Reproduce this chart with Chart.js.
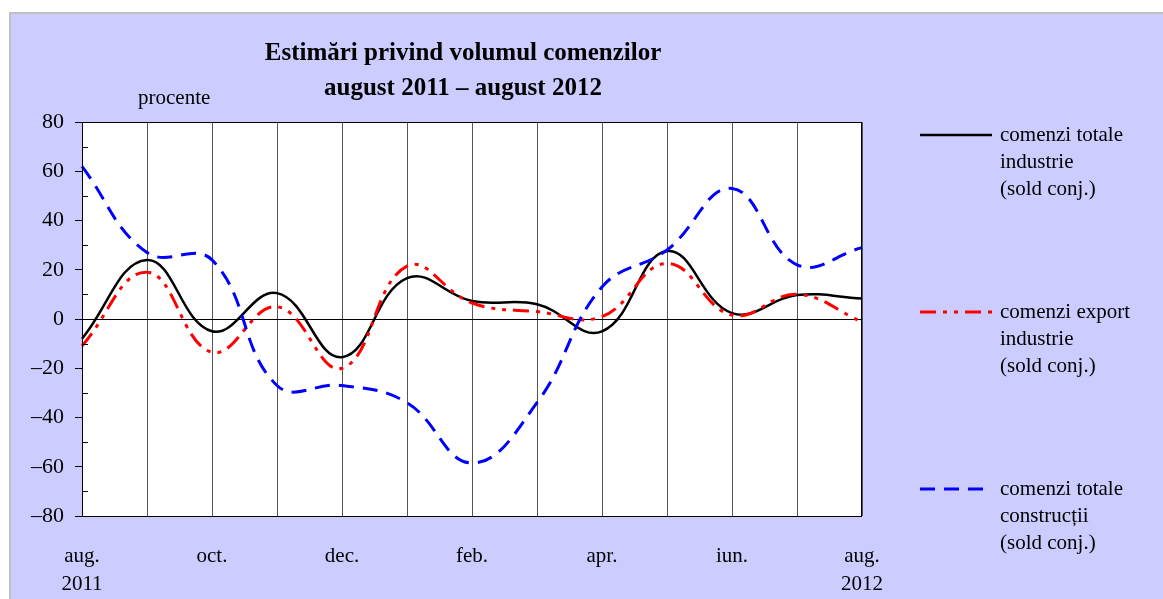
<!DOCTYPE html>
<html>
<head>
<meta charset="utf-8">
<script src="https://cdn.jsdelivr.net/npm/chart.js@4.4.1/dist/chart.umd.min.js"></script>
<style>
  html, body { margin: 0; padding: 0; background: #fff; overflow: hidden; }
  body { width: 1163px; height: 599px; position: relative; font-family: 'Liberation Serif', 'Times New Roman', serif; }
  #panel { position: absolute; left: 9px; top: 12px; right: -5px; bottom: -5px; background: #ccccff; border: 2px solid #c0c0c0; }
  #chart { position: absolute; left: 10px; top: 13px; }
  #title { position: absolute; left: 163px; width: 600px; top: 34px; text-align: center; font-weight: bold; font-size: 25px; line-height: 35px; color: #000; }
  #unit { position: absolute; left: 138px; top: 85px; font-size: 21px; color: #000; }
  .leg { position: absolute; left: 920px; font-size: 21px; line-height: 27px; color: #000; }
  .leg svg { position: absolute; left: 0; top: 8px; }
  .leg div { margin-left: 80px; }
</style>
</head>
<body>
<div id="panel"></div>
<canvas id="chart" width="1153" height="586"></canvas>
<div id="title">Estimări privind volumul comenzilor<br>august 2011 – august 2012</div>
<div id="unit">procente</div>
<div id="legend"></div>
<script>
const months = ['aug.', 'sep.', 'oct.', 'nov.', 'dec.', 'ian.', 'feb.', 'mar.', 'apr.', 'mai', 'iun.', 'iul.', 'aug.'];
const years = ['2011', '', '', '', '', '', '', '', '', '', '', '', '2012'];

const totalIndustrie = [-8, 24, -5, 10.5, -15.5, 16.6, 7.3, 6, -5, 27.6, 2.4, 9.7, 8.3];
const exportIndustrie = [-11, 19, -13.5, 5, -20, 21.5, 6.5, 3, 1, 22.5, 1.6, 10, -1.2];
const totalConstructii = [62, 27, 24, -27, -27, -34, -58.5, -34, 13, 28, 53, 22, 29];

const yTicks = [80, 60, 40, 20, 0, -20, -40, -60, -80];

const seriesNames = [
    ['comenzi totale', 'industrie', '(sold conj.)'],
    ['comenzi export', 'industrie', '(sold conj.)'],
    ['comenzi totale', 'construcții', '(sold conj.)']
];
const seriesColors = ['#000000', '#ff0000', '#0000ff'];
const seriesDash = [[], [16, 7, 4, 7, 4, 7], [15, 9]];
const seriesWidth = [2.5, 3, 3];

// legend in html
const legendTops = [121, 298, 475];
const legend = document.getElementById('legend');
seriesNames.forEach((lines, i) => {
    const el = document.createElement('div');
    el.className = 'leg';
    el.style.top = legendTops[i] + 'px';
    el.innerHTML = '<svg width="74" height="12"><line x1="0" y1="6" x2="72" y2="6" stroke="' + seriesColors[i] +
        '" stroke-width="' + seriesWidth[i] + '" stroke-dasharray="' + (seriesDash[i].join(',') || 'none') + '"/></svg>' +
        '<div>' + lines.join('<br>') + '</div>';
    legend.appendChild(el);
});

// white plot background, frame and minor ticks inside
const frame = {
    id: 'frame',
    beforeDraw(chart) {
        const a = chart.chartArea, ctx = chart.ctx;
        ctx.save();
        ctx.fillStyle = '#ffffff';
        ctx.fillRect(a.left, a.top, a.right - a.left, a.bottom - a.top);
        ctx.restore();
    },
    afterDraw(chart) {
        const a = chart.chartArea, ctx = chart.ctx, y = chart.scales.y;
        ctx.save();
        ctx.strokeStyle = '#000';
        ctx.lineWidth = 1;
        ctx.strokeRect(a.left + 0.5, a.top + 0.5, a.right - a.left - 1, a.bottom - a.top);
        ctx.beginPath();
        for (let v = -70; v < 80; v += 20) {
            const py = Math.round(y.getPixelForValue(v)) + 0.5;
            ctx.moveTo(a.left, py);
            ctx.lineTo(a.left + 6, py);
        }
        ctx.stroke();
        ctx.restore();
    }
};

const mk = (label, data, i) => ({
    label: label,
    data: data,
    borderColor: seriesColors[i],
    borderWidth: seriesWidth[i],
    borderDash: seriesDash[i],
    pointRadius: 0,
    tension: 0.42,
    fill: false
});

new Chart(document.getElementById('chart').getContext('2d'), {
    type: 'line',
    data: {
        labels: months,
        datasets: [
            mk(seriesNames[2].join(' '), totalConstructii, 2),
            mk(seriesNames[1].join(' '), exportIndustrie, 1),
            mk(seriesNames[0].join(' '), totalIndustrie, 0)
        ]
    },
    options: {
        responsive: false,
        animation: false,
        layout: { padding: { left: 0, right: 301, top: 109, bottom: 0 } },
        plugins: { legend: { display: false }, title: { display: false }, tooltip: { enabled: false } },
        scales: {
            x: {
                offset: false,
                afterFit(scale) { scale.height = 83; },
                grid: { color: '#555', lineWidth: 1, drawTicks: false },
                border: { display: false },
                ticks: {
                    autoSkip: false,
                    maxRotation: 0,
                    padding: 26,
                    color: '#000',
                    font: { family: 'Liberation Serif', size: 21, lineHeight: 1.35 },
                    callback(v, i) {
                        if (i % 2) return '';
                        return years[i] ? [months[i], years[i]] : months[i];
                    }
                }
            },
            y: {
                min: -80,
                max: 80,
                afterFit(scale) { scale.width = 72; },
                afterBuildTicks(scale) { scale.ticks = yTicks.map(v => ({ value: v })); },
                grid: {
                    color: ctx => ctx.tick && ctx.tick.value === 0 ? '#000' : 'rgba(0,0,0,0)',
                    tickColor: '#000',
                    tickLength: 7,
                    lineWidth: 1
                },
                border: { display: false },
                ticks: {
                    padding: 11,
                    color: '#000',
                    font: { family: 'Liberation Serif', size: 22 },
                    callback: v => (v < 0 ? '–' + Math.abs(v) : String(v))
                }
            }
        }
    },
    plugins: [frame]
});
</script>
</body>
</html>
